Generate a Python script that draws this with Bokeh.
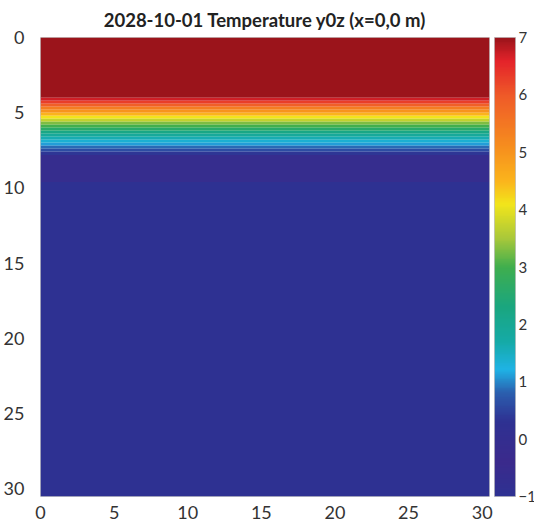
from bokeh.plotting import figure
from bokeh.models import LinearColorMapper, ColorBar, FixedTicker, ColumnDataSource
from bokeh.embed import file_html
from bokeh.resources import INLINE

# ---- data ----
title_text = "2028-10-01 Temperature y0z (x=0,0 m)"
x_min, x_max = 0.0, 30.5
z_max = 30.5
# depth layers (top, bottom) in m and temperature
layer_top = [0.0, 4.0, 4.2, 4.4, 4.6, 4.8, 5.0, 5.2, 5.4, 5.6, 5.8, 6.0, 6.2, 6.4,
             6.6, 6.8, 7.0, 7.2, 7.4, 7.6, 7.8, 9.6]
layer_bottom = [4.0, 4.2, 4.4, 4.6, 4.8, 5.0, 5.2, 5.4, 5.6, 5.8, 6.0, 6.2, 6.4, 6.6,
                6.8, 7.0, 7.2, 7.4, 7.6, 7.8, 9.6, 30.5]
layer_temp = [7.0, 6.7, 6.3, 5.9, 5.4, 5.0, 4.5, 4.1, 3.7, 3.3, 3.0, 2.6, 2.2, 1.9,
              1.6, 1.35, 1.1, 0.85, 0.6, 0.35, -0.1, 0.3]
axis_ticks = [0, 5, 10, 15, 20, 25, 30]
cbar_ticks = [-1, 0, 1, 2, 3, 4, 5, 6, 7]
cbar_low, cbar_high = -1, 7

# ---- colour scale anchors (style) ----
anchor_val = [-1.0, -0.4, 0.3, 0.8, 1.2, 1.7, 2.3, 3.0, 3.5, 4.1, 4.5, 5.0, 6.0, 6.6, 7.0]
anchor_col = ["#2e3192", "#3b2a8c", "#2e3192", "#2b5fae", "#1fb3e6", "#15aaa6", "#1aa67f",
              "#3fae4e", "#a9c83a", "#f2e51b", "#fbb41c", "#f7941d", "#ef5a28", "#e4232a",
              "#9b141b"]


def hex2rgb(h):
    return tuple(int(h[i:i + 2], 16) for i in (1, 3, 5))


palette = []
n = 256
for i in range(n):
    v = cbar_low + (cbar_high - cbar_low) * i / (n - 1)
    for k in range(len(anchor_val) - 1):
        if anchor_val[k] <= v <= anchor_val[k + 1]:
            t = (v - anchor_val[k]) / (anchor_val[k + 1] - anchor_val[k])
            a = hex2rgb(anchor_col[k])
            b = hex2rgb(anchor_col[k + 1])
            c = tuple(round(a[j] + (b[j] - a[j]) * t) for j in range(3))
            palette.append("#%02x%02x%02x" % c)
            break

mapper = LinearColorMapper(palette=palette, low=cbar_low, high=cbar_high)

src = ColumnDataSource(dict(
    left=[x_min] * len(layer_top), right=[x_max] * len(layer_top),
    top=layer_top, bottom=layer_bottom, temp=layer_temp))

FONT = "Lato"
FW, FH = 449, 459

p = figure(frame_width=FW, frame_height=FH, x_range=(x_min, x_max), y_range=(z_max, 0),
           output_backend="svg", toolbar_location=None,
           min_border_left=32, min_border_right=45, min_border_top=36, min_border_bottom=22)

p.quad(left="left", right="right", top="top", bottom="bottom", source=src,
       fill_color={"field": "temp", "transform": mapper}, line_color=None)

p.title.text = title_text
p.title.align = "center"
p.title.text_font = FONT
p.title.text_font_style = "bold"
p.title.text_font_size = "18.5px"
p.title.text_color = "#222222"
p.title.standoff = 13

for ax in (p.xaxis[0], p.yaxis[0]):
    ax.ticker = FixedTicker(ticks=axis_ticks)
    ax.axis_line_color = None
    ax.major_tick_line_color = None
    ax.minor_tick_line_color = None
    ax.major_label_text_font = FONT
    ax.major_label_text_font_size = "18px"
    ax.major_label_text_color = "#333333"
p.yaxis[0].major_label_standoff = 10
p.xaxis[0].major_label_standoff = 3

p.grid.visible = False
p.outline_line_color = "#c8c8c8"
p.background_fill_color = "white"
p.border_fill_color = "white"

cb = ColorBar(color_mapper=mapper, ticker=FixedTicker(ticks=cbar_ticks),
              location=(FW + 5, 0), width=21, height=FH, padding=0, margin=0,
              label_standoff=3, major_tick_line_color=None, minor_tick_line_color=None,
              bar_line_color="#b0b0b0", bar_line_alpha=0.6,
              major_label_text_font=FONT, major_label_text_font_size="15px",
              major_label_text_color="#333333", background_fill_alpha=0,
              border_line_color=None)
p.add_layout(cb, "center")

open("out.html", "w").write(file_html(p, INLINE))
